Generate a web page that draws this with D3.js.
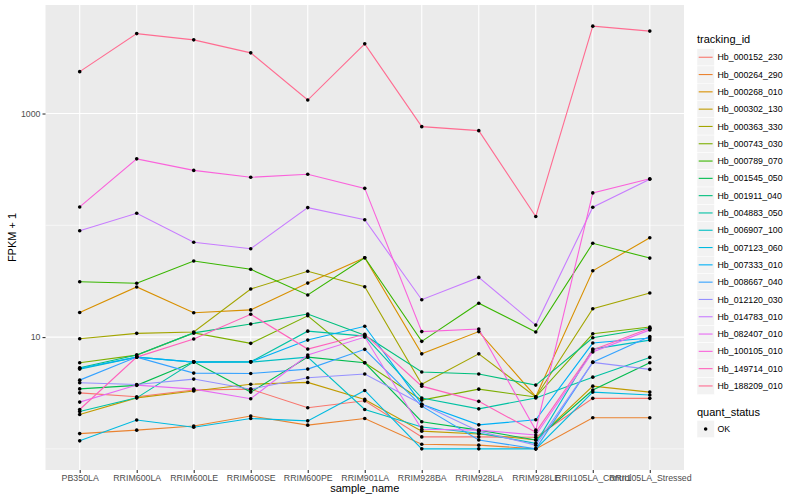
<!DOCTYPE html>
<html>
<head>
<meta charset="utf-8">
<script src="https://cdn.jsdelivr.net/npm/d3@7"></script>
<style>
  body { margin: 0; background: #fff; }
  text { font-family: "Liberation Sans", Arial, sans-serif; }
</style>
</head>
<body>
<script>
// samples on the x axis
const samples = ["PB350LA", "RRIM600LA", "RRIM600LE", "RRIM600SE", "RRIM600PE", "RRIM901LA",
                 "RRIM928BA", "RRIM928LA", "RRIM928LE", "RRII105LA_Control", "RRII105LA_Stressed"];

const trackingIds = ["Hb_000152_230", "Hb_000264_290", "Hb_000268_010", "Hb_000302_130", "Hb_000363_330",
                     "Hb_000743_030", "Hb_000789_070", "Hb_001545_050", "Hb_001911_040", "Hb_004883_050",
                     "Hb_006907_100", "Hb_007123_060", "Hb_007333_010", "Hb_008667_040", "Hb_012120_030",
                     "Hb_014783_010", "Hb_082407_010", "Hb_100105_010", "Hb_149714_010", "Hb_188209_010"];

// FPKM + 1, one array per tracking id
const hb000152 = [3.17, 2.93, 3.36, 3.42, 2.33, 2.69, 1.28, 1.28, 1.27, 2.83, 2.83];
const hb000264 = [1.37, 1.47, 1.60, 1.97, 1.63, 1.87, 1.10, 1.08, 1.00, 1.90, 1.90];
const hb000268 = [16.6, 28.1, 16.5, 17.5, 30.4, 51.3, 7.08, 11.2, 2.93, 39.2, 77.5];
const hb000302 = [2.03, 2.86, 3.29, 3.79, 3.93, 2.77, 1.44, 1.36, 1.20, 3.64, 3.22];
const hb000363 = [9.66, 10.8, 11.1, 26.9, 38.8, 28.2, 3.79, 7.08, 2.91, 17.9, 24.8];
const hb000743 = [5.89, 6.90, 10.9, 8.79, 15.5, 5.89, 2.73, 3.42, 2.91, 10.7, 12.3];
const hb000789 = [31.3, 30.3, 47.9, 40.4, 23.8, 51.3, 9.16, 20.1, 11.1, 69.0, 50.9];
const hb001545 = [3.44, 3.70, 6.01, 3.22, 6.62, 5.89, 1.75, 1.47, 1.20, 3.36, 5.89];
const hb001911 = [5.31, 6.90, 10.9, 13.1, 16.1, 10.4, 4.87, 4.67, 3.72, 9.86, 12.0];
const hb004883 = [2.16, 2.86, 6.01, 6.01, 11.3, 10.2, 2.85, 2.28, 2.85, 4.38, 6.58];
const hb006907 = [5.17, 6.62, 5.97, 5.97, 6.62, 2.25, 1.57, 1.38, 1.12, 7.81, 9.40];
const hb007123 = [1.18, 1.81, 1.56, 1.87, 1.78, 3.33, 1.00, 1.00, 1.00, 3.22, 3.03];
const hb007333 = [5.27, 6.62, 5.97, 6.01, 9.40, 12.5, 2.51, 1.64, 1.82, 8.84, 9.80];
const hb008667 = [4.12, 6.62, 4.76, 4.73, 5.17, 7.77, 2.41, 1.20, 1.00, 5.97, 10.1];
const hb012120 = [3.90, 3.77, 4.21, 3.42, 4.33, 4.67, 2.51, 1.44, 1.08, 5.94, 5.14];
const hb014783 = [89.5, 128, 70.5, 61.7, 144, 112, 21.6, 34.2, 12.8, 145, 258];
const hb082407 = [2.62, 3.72, 3.42, 2.81, 6.90, 10.0, 1.50, 1.47, 1.33, 7.35, 11.6];
const hb100105 = [146, 393, 310, 269, 286, 214, 11.2, 11.8, 1.47, 195, 261];
const hb149714 = [2.25, 6.62, 9.60, 16.0, 7.81, 10.6, 3.64, 2.66, 1.41, 7.66, 12.0];
const hb188209 = [2370, 5190, 4560, 3490, 1320, 4200, 763, 703, 120, 6050, 5460];

const values = [hb000152, hb000264, hb000268, hb000302, hb000363, hb000743, hb000789, hb001545,
                hb001911, hb004883, hb006907, hb007123, hb007333, hb008667, hb012120, hb014783,
                hb082407, hb100105, hb149714, hb188209];

const yTicks = [10, 1000];
const yMinor = [1, 100, 10000];

// ggplot default hue palette for 20 levels
const colors = ["#F8766D", "#EA8331", "#D89000", "#C09B00", "#A3A500", "#7CAE00", "#39B600",
                "#00BB4E", "#00BF7D", "#00C1A3", "#00BFC4", "#00BAE0", "#00B0F6", "#35A2FF",
                "#9590FF", "#C77CFF", "#E76BF3", "#FA62DB", "#FF62BC", "#FF6C91"];

const width = 800, height = 500;
const panel = {left: 45.5, right: 684, top: 5, bottom: 470};

const svg = d3.select("body").append("svg")
    .attr("width", width)
    .attr("height", height);

const x = d3.scalePoint()
    .domain(samples)
    .range([panel.left, panel.right])
    .padding(0.6);

// log scale, expanded 5% like ggplot
const allVals = values.flat();
const lo = Math.log10(d3.min(allVals)), hi = Math.log10(d3.max(allVals));
const pad = (hi - lo) * 0.05;
const y = d3.scaleLog()
    .domain([Math.pow(10, lo - pad), Math.pow(10, hi + pad)])
    .range([panel.bottom, panel.top]);

// panel background
svg.append("rect")
    .attr("x", panel.left).attr("y", panel.top)
    .attr("width", panel.right - panel.left)
    .attr("height", panel.bottom - panel.top)
    .attr("fill", "#EBEBEB");

const grid = svg.append("g");
grid.selectAll(".minor")
    .data(yMinor.filter(d => y(d) >= panel.top && y(d) <= panel.bottom))
    .enter().append("line")
    .attr("x1", panel.left).attr("x2", panel.right)
    .attr("y1", d => y(d)).attr("y2", d => y(d))
    .attr("stroke", "#fff").attr("stroke-width", 0.55);
grid.selectAll(".major")
    .data(yTicks)
    .enter().append("line")
    .attr("x1", panel.left).attr("x2", panel.right)
    .attr("y1", d => y(d)).attr("y2", d => y(d))
    .attr("stroke", "#fff").attr("stroke-width", 1.1);
grid.selectAll(".vx")
    .data(samples)
    .enter().append("line")
    .attr("x1", d => x(d)).attr("x2", d => x(d))
    .attr("y1", panel.top).attr("y2", panel.bottom)
    .attr("stroke", "#fff").attr("stroke-width", 1.1);

// lines
const line = d3.line()
    .x((d, i) => x(samples[i]))
    .y(d => y(d));

svg.append("g").selectAll("path")
    .data(values)
    .enter().append("path")
    .attr("d", line)
    .attr("fill", "none")
    .attr("stroke", (d, i) => colors[i])
    .attr("stroke-width", 1.1);

// points
const pts = svg.append("g");
values.forEach(function (series) {
    pts.selectAll(null)
        .data(series)
        .enter().append("circle")
        .attr("cx", (d, i) => x(samples[i]))
        .attr("cy", d => y(d))
        .attr("r", 1.8)
        .attr("fill", "#000");
});

// axes
const xAxis = svg.append("g")
    .attr("transform", "translate(0," + panel.bottom + ")")
    .call(d3.axisBottom(x).tickSize(3).tickPadding(2));
const yAxis = svg.append("g")
    .attr("transform", "translate(" + panel.left + ",0)")
    .call(d3.axisLeft(y).tickValues(yTicks).tickFormat(d3.format("d")).tickSize(3).tickPadding(2));

[xAxis, yAxis].forEach(function (a) {
    a.select(".domain").remove();
    a.selectAll(".tick line").attr("stroke", "#333").attr("stroke-width", 1.1);
    a.selectAll(".tick text")
        .attr("fill", "#4D4D4D")
        .style("font-size", "8.8px")
        .style("font-family", "'Liberation Sans', Arial, sans-serif");
});

svg.append("text")
    .attr("x", (panel.left + panel.right) / 2)
    .attr("y", 492)
    .attr("text-anchor", "middle")
    .style("font-size", "11px")
    .text("sample_name");

svg.append("text")
    .attr("transform", "translate(16," + ((panel.top + panel.bottom) / 2) + ") rotate(-90)")
    .attr("text-anchor", "middle")
    .style("font-size", "11px")
    .text("FPKM + 1");

// legend: tracking_id
const lg = svg.append("g").attr("transform", "translate(697,0)");
lg.append("text").attr("x", 0).attr("y", 43).style("font-size", "11px").text("tracking_id");

const keyH = 17.3, keyTop = 48.6;
const keys = lg.selectAll(".key")
    .data(trackingIds)
    .enter().append("g")
    .attr("transform", (d, i) => "translate(0," + (keyTop + i * keyH) + ")");
keys.append("rect")
    .attr("width", 17.3).attr("height", keyH)
    .attr("fill", "#F2F2F2").attr("stroke", "#fff").attr("stroke-width", 0.5);
keys.append("line")
    .attr("x1", 1.7).attr("x2", 15.6)
    .attr("y1", keyH / 2).attr("y2", keyH / 2)
    .attr("stroke", (d, i) => colors[i])
    .attr("stroke-width", 1.1);
keys.append("text")
    .attr("x", 20.5).attr("y", keyH / 2 + 3.1)
    .style("font-size", "8.8px")
    .text(d => d);

// legend: quant_status
lg.append("text").attr("x", 0).attr("y", 416).style("font-size", "11px").text("quant_status");
const ok = lg.append("g").attr("transform", "translate(0,420.4)");
ok.append("rect").attr("width", 17.3).attr("height", keyH)
    .attr("fill", "#F2F2F2").attr("stroke", "#fff").attr("stroke-width", 0.5);
ok.append("circle").attr("cx", 8.65).attr("cy", keyH / 2).attr("r", 1.8).attr("fill", "#000");
ok.append("text").attr("x", 20.5).attr("y", keyH / 2 + 3.1).style("font-size", "8.8px").text("OK");
</script>
</body>
</html>
